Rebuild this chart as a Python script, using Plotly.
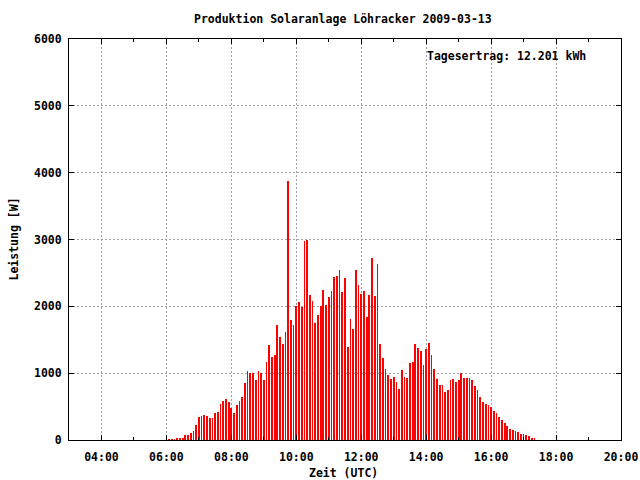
import datetime as dt
import plotly.graph_objects as go

# Data: power readings every 5 minutes starting 06:05 UTC on 2009-03-13
start_time = "2009-03-13 06:05:00"
interval_minutes = 5
power_w = [
    15, 15, 15, 30, 30, 30, 75, 75, 105, 135,
    225, 345, 360, 375, 360, 330, 330, 405, 420, 540,
    585, 615, 570, 480, 405, 525, 585, 645, 855, 1035,
    1005, 1005, 900, 1035, 1005, 900, 1165, 1420, 1240, 1270,
    1720, 1540, 1435, 1615, 3875, 1795, 1720, 2005, 2065, 1990,
    2980, 2995, 2170, 2080, 1750, 1870, 2005, 2245, 2020, 2140,
    2230, 2440, 2455, 2545, 2215, 2425, 1390, 1810, 1660, 2545,
    2320, 2190, 2230, 1840, 2170, 2725, 2155, 2635, 1435, 1225,
    1060, 975, 915, 945, 870, 765, 1050, 945, 930, 1150,
    1165, 1435, 1375, 1330, 1120, 1360, 1450, 1270, 1060, 915,
    825, 825, 720, 750, 900, 915, 870, 900, 1005, 930,
    930, 930, 900, 810, 750, 645, 570, 540, 525, 495,
    435, 405, 345, 300, 255, 210, 165, 150, 135, 120,
    90, 90, 75, 60, 30, 30,
]
x_range = ["2009-03-13 03:00:00", "2009-03-13 20:00:00"]
major_ticks = ["2009-03-13 %02d:00:00" % h for h in range(4, 21, 2)]
major_labels = ["%02d:00" % h for h in range(4, 21, 2)]
y_ticks = [0, 1000, 2000, 3000, 4000, 5000, 6000]

title_text = "Produktion Solaranlage Löhracker 2009-03-13"
x_title = "Zeit (UTC)"
y_title = "Leistung [W]"
yield_text = "Tagesertrag: 12.201 kWh"

t0 = dt.datetime.strptime(start_time, "%Y-%m-%d %H:%M:%S")
times = [t0 + dt.timedelta(minutes=interval_minutes * i) for i in range(len(power_w))]

FONT = dict(family="DejaVu Sans Mono", size=11.5, color="black", weight="bold")

fig = go.Figure()
fig.add_trace(go.Bar(
    x=times, y=power_w,
    width=interval_minutes * 60 * 1000 * 0.3,
    marker=dict(color="#ff0000", line=dict(width=0)),
    showlegend=False,
))

grid = dict(showgrid=True, gridcolor="#a0a0a0", gridwidth=1, griddash="2px,2px")

fig.update_xaxes(
    type="date", range=x_range, automargin=False,
    tickvals=major_ticks, ticktext=major_labels,
    ticks="inside", ticklen=5, tickcolor="black", tickwidth=1,
    minor=dict(dtick=3600000, ticks="inside", ticklen=3, tickcolor="black", showgrid=False),
    showline=True, linecolor="black", linewidth=1, mirror="allticks",
    zeroline=False, tickfont=FONT, ticklabelstandoff=6, ticklabeloverflow="allow", **grid,
)
fig.update_yaxes(
    range=[0, 6000], tickvals=y_ticks, automargin=False,
    ticks="inside", ticklen=5, tickcolor="black", tickwidth=1,
    showline=True, linecolor="black", linewidth=1, mirror="allticks",
    zeroline=False, tickfont=FONT, ticklabelstandoff=4, **grid,
)

fig.update_layout(
    width=640, height=480,
    margin=dict(l=69, r=19, t=39, b=40, autoexpand=False),
    paper_bgcolor="white", plot_bgcolor="white",
    bargap=0,
    font=FONT,
    annotations=[
        dict(text=title_text, xref="paper", yref="paper", x=(343 - 69) / 552, y=1,
             yshift=20, showarrow=False, font=FONT, xanchor="center", yanchor="middle"),
        dict(text=x_title, xref="paper", yref="paper", x=(343 - 69) / 552, y=0,
             yshift=-33, showarrow=False, font=FONT, xanchor="center", yanchor="middle"),
        dict(text=y_title, xref="paper", yref="paper", x=0, xshift=-56, y=0.5,
             textangle=-90, showarrow=False, font=FONT, xanchor="center", yanchor="middle"),
        dict(text=yield_text, xref="paper", yref="paper", x=(588 - 69) / 552, y=1,
             yshift=-17, showarrow=False, font=FONT, xanchor="right", yanchor="middle"),
    ],
)

fig.write_html("out.html", config={"displayModeBar": False},
               post_script="document.body.style.margin='0';")
